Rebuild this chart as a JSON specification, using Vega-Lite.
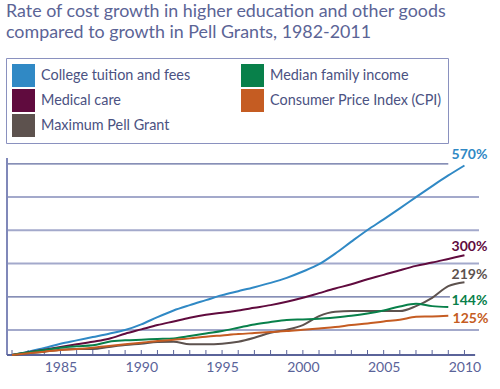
{
  "$schema": "https://vega.github.io/schema/vega-lite/v6.json",
  "width": 472,
  "height": 197,
  "padding": {"left": 5, "top": 2, "right": 5, "bottom": 5},
  "background": "white",
  "config": {
    "view": {"stroke": null},
    "font": "Lato",
    "axisY": {"disable": true},
    "axisX": {"title": null, "grid": false, "domain": false}
  },
  "title": {
    "text": ["Rate of cost growth in higher education and other goods", "compared to growth in Pell Grants, 1982-2011"],
    "anchor": "start",
    "frame": "group",
    "font": "Lato",
    "fontSize": 17.85,
    "fontWeight": "normal",
    "color": "#5b6496",
    "lineHeight": 21,
    "offset": 16,
    "dx": -1
  },
  "datasets": {
    "series": [
      {"series": "College tuition and fees", "year": 1982, "value": 0},
      {"series": "College tuition and fees", "year": 1983, "value": 10},
      {"series": "College tuition and fees", "year": 1984, "value": 21},
      {"series": "College tuition and fees", "year": 1985, "value": 34},
      {"series": "College tuition and fees", "year": 1986, "value": 44},
      {"series": "College tuition and fees", "year": 1987, "value": 54},
      {"series": "College tuition and fees", "year": 1988, "value": 64},
      {"series": "College tuition and fees", "year": 1989, "value": 75},
      {"series": "College tuition and fees", "year": 1990, "value": 92},
      {"series": "College tuition and fees", "year": 1991, "value": 114},
      {"series": "College tuition and fees", "year": 1992, "value": 134},
      {"series": "College tuition and fees", "year": 1993, "value": 150},
      {"series": "College tuition and fees", "year": 1994, "value": 165},
      {"series": "College tuition and fees", "year": 1995, "value": 180},
      {"series": "College tuition and fees", "year": 1996, "value": 192},
      {"series": "College tuition and fees", "year": 1997, "value": 204},
      {"series": "College tuition and fees", "year": 1998, "value": 217},
      {"series": "College tuition and fees", "year": 1999, "value": 232},
      {"series": "College tuition and fees", "year": 2000, "value": 251},
      {"series": "College tuition and fees", "year": 2001, "value": 273},
      {"series": "College tuition and fees", "year": 2002, "value": 305},
      {"series": "College tuition and fees", "year": 2003, "value": 341},
      {"series": "College tuition and fees", "year": 2004, "value": 376},
      {"series": "College tuition and fees", "year": 2005, "value": 408},
      {"series": "College tuition and fees", "year": 2006, "value": 441},
      {"series": "College tuition and fees", "year": 2007, "value": 475},
      {"series": "College tuition and fees", "year": 2008, "value": 508},
      {"series": "College tuition and fees", "year": 2009, "value": 540},
      {"series": "College tuition and fees", "year": 2010, "value": 570},
      {"series": "Medical care", "year": 1982, "value": 0},
      {"series": "Medical care", "year": 1983, "value": 8},
      {"series": "Medical care", "year": 1984, "value": 16},
      {"series": "Medical care", "year": 1985, "value": 24},
      {"series": "Medical care", "year": 1986, "value": 32},
      {"series": "Medical care", "year": 1987, "value": 40},
      {"series": "Medical care", "year": 1988, "value": 49},
      {"series": "Medical care", "year": 1989, "value": 64},
      {"series": "Medical care", "year": 1990, "value": 77},
      {"series": "Medical care", "year": 1991, "value": 90},
      {"series": "Medical care", "year": 1992, "value": 101},
      {"series": "Medical care", "year": 1993, "value": 112},
      {"series": "Medical care", "year": 1994, "value": 121},
      {"series": "Medical care", "year": 1995, "value": 127},
      {"series": "Medical care", "year": 1996, "value": 134},
      {"series": "Medical care", "year": 1997, "value": 142},
      {"series": "Medical care", "year": 1998, "value": 150},
      {"series": "Medical care", "year": 1999, "value": 160},
      {"series": "Medical care", "year": 2000, "value": 172},
      {"series": "Medical care", "year": 2001, "value": 186},
      {"series": "Medical care", "year": 2002, "value": 200},
      {"series": "Medical care", "year": 2003, "value": 213},
      {"series": "Medical care", "year": 2004, "value": 228},
      {"series": "Medical care", "year": 2005, "value": 241},
      {"series": "Medical care", "year": 2006, "value": 255},
      {"series": "Medical care", "year": 2007, "value": 268},
      {"series": "Medical care", "year": 2008, "value": 278},
      {"series": "Medical care", "year": 2009, "value": 289},
      {"series": "Medical care", "year": 2010, "value": 300},
      {"series": "Maximum Pell Grant", "year": 1982, "value": 0},
      {"series": "Maximum Pell Grant", "year": 1983, "value": 5},
      {"series": "Maximum Pell Grant", "year": 1984, "value": 10},
      {"series": "Maximum Pell Grant", "year": 1985, "value": 16},
      {"series": "Maximum Pell Grant", "year": 1986, "value": 18},
      {"series": "Maximum Pell Grant", "year": 1987, "value": 18},
      {"series": "Maximum Pell Grant", "year": 1988, "value": 24},
      {"series": "Maximum Pell Grant", "year": 1989, "value": 30},
      {"series": "Maximum Pell Grant", "year": 1990, "value": 34},
      {"series": "Maximum Pell Grant", "year": 1991, "value": 39},
      {"series": "Maximum Pell Grant", "year": 1992, "value": 40},
      {"series": "Maximum Pell Grant", "year": 1993, "value": 32},
      {"series": "Maximum Pell Grant", "year": 1994, "value": 32},
      {"series": "Maximum Pell Grant", "year": 1995, "value": 34},
      {"series": "Maximum Pell Grant", "year": 1996, "value": 40},
      {"series": "Maximum Pell Grant", "year": 1997, "value": 52},
      {"series": "Maximum Pell Grant", "year": 1998, "value": 67},
      {"series": "Maximum Pell Grant", "year": 1999, "value": 76},
      {"series": "Maximum Pell Grant", "year": 2000, "value": 90},
      {"series": "Maximum Pell Grant", "year": 2001, "value": 117},
      {"series": "Maximum Pell Grant", "year": 2002, "value": 130},
      {"series": "Maximum Pell Grant", "year": 2003, "value": 132},
      {"series": "Maximum Pell Grant", "year": 2004, "value": 132},
      {"series": "Maximum Pell Grant", "year": 2005, "value": 132},
      {"series": "Maximum Pell Grant", "year": 2006, "value": 132},
      {"series": "Maximum Pell Grant", "year": 2007, "value": 147},
      {"series": "Maximum Pell Grant", "year": 2008, "value": 172},
      {"series": "Maximum Pell Grant", "year": 2009, "value": 207},
      {"series": "Maximum Pell Grant", "year": 2010, "value": 219},
      {"series": "Median family income", "year": 1982, "value": 0},
      {"series": "Median family income", "year": 1983, "value": 8},
      {"series": "Median family income", "year": 1984, "value": 15},
      {"series": "Median family income", "year": 1985, "value": 22},
      {"series": "Median family income", "year": 1986, "value": 26},
      {"series": "Median family income", "year": 1987, "value": 29},
      {"series": "Median family income", "year": 1988, "value": 40},
      {"series": "Median family income", "year": 1989, "value": 44},
      {"series": "Median family income", "year": 1990, "value": 46},
      {"series": "Median family income", "year": 1991, "value": 48},
      {"series": "Median family income", "year": 1992, "value": 50},
      {"series": "Median family income", "year": 1993, "value": 57},
      {"series": "Median family income", "year": 1994, "value": 65},
      {"series": "Median family income", "year": 1995, "value": 72},
      {"series": "Median family income", "year": 1996, "value": 82},
      {"series": "Median family income", "year": 1997, "value": 92},
      {"series": "Median family income", "year": 1998, "value": 99},
      {"series": "Median family income", "year": 1999, "value": 105},
      {"series": "Median family income", "year": 2000, "value": 107},
      {"series": "Median family income", "year": 2001, "value": 109},
      {"series": "Median family income", "year": 2002, "value": 113},
      {"series": "Median family income", "year": 2003, "value": 118},
      {"series": "Median family income", "year": 2004, "value": 125},
      {"series": "Median family income", "year": 2005, "value": 134},
      {"series": "Median family income", "year": 2006, "value": 146},
      {"series": "Median family income", "year": 2007, "value": 154},
      {"series": "Median family income", "year": 2008, "value": 147},
      {"series": "Median family income", "year": 2009, "value": 144},
      {"series": "Consumer Price Index (CPI)", "year": 1982, "value": 0},
      {"series": "Consumer Price Index (CPI)", "year": 1983, "value": 5},
      {"series": "Consumer Price Index (CPI)", "year": 1984, "value": 10},
      {"series": "Consumer Price Index (CPI)", "year": 1985, "value": 15},
      {"series": "Consumer Price Index (CPI)", "year": 1986, "value": 18},
      {"series": "Consumer Price Index (CPI)", "year": 1987, "value": 22},
      {"series": "Consumer Price Index (CPI)", "year": 1988, "value": 27},
      {"series": "Consumer Price Index (CPI)", "year": 1989, "value": 32},
      {"series": "Consumer Price Index (CPI)", "year": 1990, "value": 37},
      {"series": "Consumer Price Index (CPI)", "year": 1991, "value": 42},
      {"series": "Consumer Price Index (CPI)", "year": 1992, "value": 46},
      {"series": "Consumer Price Index (CPI)", "year": 1993, "value": 50},
      {"series": "Consumer Price Index (CPI)", "year": 1994, "value": 55},
      {"series": "Consumer Price Index (CPI)", "year": 1995, "value": 59},
      {"series": "Consumer Price Index (CPI)", "year": 1996, "value": 63},
      {"series": "Consumer Price Index (CPI)", "year": 1997, "value": 66},
      {"series": "Consumer Price Index (CPI)", "year": 1998, "value": 69},
      {"series": "Consumer Price Index (CPI)", "year": 1999, "value": 72},
      {"series": "Consumer Price Index (CPI)", "year": 2000, "value": 76},
      {"series": "Consumer Price Index (CPI)", "year": 2001, "value": 80},
      {"series": "Consumer Price Index (CPI)", "year": 2002, "value": 84},
      {"series": "Consumer Price Index (CPI)", "year": 2003, "value": 90},
      {"series": "Consumer Price Index (CPI)", "year": 2004, "value": 95},
      {"series": "Consumer Price Index (CPI)", "year": 2005, "value": 101},
      {"series": "Consumer Price Index (CPI)", "year": 2006, "value": 106},
      {"series": "Consumer Price Index (CPI)", "year": 2007, "value": 115},
      {"series": "Consumer Price Index (CPI)", "year": 2008, "value": 116},
      {"series": "Consumer Price Index (CPI)", "year": 2009, "value": 118}
    ],
    "lightGrid": [
      {"level": 75, "start": 1981.69, "end": 2010.9},
      {"level": 275, "start": 1981.69, "end": 2010.9},
      {"level": 375, "start": 1981.69, "end": 2010.9},
      {"level": 475, "start": 1981.69, "end": 2010.9}
    ],
    "darkGrid": [
      {"level": 175, "start": 1981.69, "end": 2009.1},
      {"level": 575, "start": 1981.69, "end": 2009.0}
    ],
    "frame": [
      {"x1": 1981.69, "x2": 1981.69, "y1": 0, "y2": 592.5, "part": "left"},
      {"x1": 1981.69, "x2": 2010.66, "y1": 0, "y2": 0, "part": "bottom"}
    ],
    "years": [
      {"year": 1982}, {"year": 1983}, {"year": 1984}, {"year": 1985}, {"year": 1986},
      {"year": 1987}, {"year": 1988}, {"year": 1989}, {"year": 1990}, {"year": 1991},
      {"year": 1992}, {"year": 1993}, {"year": 1994}, {"year": 1995}, {"year": 1996},
      {"year": 1997}, {"year": 1998}, {"year": 1999}, {"year": 2000}, {"year": 2001},
      {"year": 2002}, {"year": 2003}, {"year": 2004}, {"year": 2005}, {"year": 2006},
      {"year": 2007}, {"year": 2008}, {"year": 2009}, {"year": 2010}
    ],
    "labels": [
      {"series": "College tuition and fees", "year": 2010, "value": 570, "label": "570%"},
      {"series": "Medical care", "year": 2010, "value": 300, "label": "300%"},
      {"series": "Maximum Pell Grant", "year": 2010, "value": 219, "label": "219%"},
      {"series": "Median family income", "year": 2010, "value": 144, "label": "144%"},
      {"series": "Consumer Price Index (CPI)", "year": 2010, "value": 125, "label": "125%"}
    ]
  },
  "layer": [
    {
      "data": {"name": "lightGrid"},
      "mark": {"type": "rule", "color": "#a3a9cb", "strokeWidth": 2},
      "encoding": {
        "x": {
          "field": "start",
          "type": "quantitative",
          "scale": {"domain": [1981.69, 2010.9], "nice": false, "zero": false},
          "axis": {
            "values": [1985, 1990, 1995, 2000, 2005, 2010],
            "format": "d",
            "ticks": false,
            "labelFont": "Lato",
            "labelFontSize": 14,
            "labelColor": "#5a6399",
            "labelPadding": 5,
            "labelFlush": false
          }
        },
        "x2": {"field": "end"},
        "y": {"field": "level", "type": "quantitative", "scale": {"domain": [0, 592.5], "nice": false}}
      }
    },
    {
      "data": {"name": "darkGrid"},
      "mark": {"type": "rule", "color": "#5f6a9e", "strokeWidth": 1.3},
      "encoding": {
        "x": {"field": "start", "type": "quantitative"},
        "x2": {"field": "end"},
        "y": {"field": "level", "type": "quantitative"}
      }
    },
    {
      "data": {"name": "frame"},
      "transform": [{"filter": "datum.part == 'left'"}],
      "mark": {"type": "rule", "color": "#8088b9", "strokeWidth": 2},
      "encoding": {
        "x": {"field": "x1", "type": "quantitative"},
        "y": {"field": "y1", "type": "quantitative"},
        "y2": {"field": "y2"}
      }
    },
    {
      "data": {"name": "years"},
      "mark": {"type": "rule", "color": "#5a6399", "strokeWidth": 1},
      "encoding": {
        "x": {"field": "year", "type": "quantitative"},
        "y": {"datum": 0, "type": "quantitative"},
        "y2": {"datum": 15}
      }
    },
    {
      "data": {"name": "frame"},
      "transform": [{"filter": "datum.part == 'bottom'"}],
      "mark": {"type": "rule", "color": "#5a6399", "strokeWidth": 2},
      "encoding": {
        "x": {"field": "x1", "type": "quantitative"},
        "x2": {"field": "x2"},
        "y": {"field": "y1", "type": "quantitative"}
      }
    },
    {
      "data": {"name": "series"},
      "mark": {"type": "line", "strokeWidth": 2, "interpolate": "monotone"},
      "encoding": {
        "x": {"field": "year", "type": "quantitative"},
        "y": {"field": "value", "type": "quantitative"},
        "color": {
          "field": "series",
          "type": "nominal",
          "scale": {
            "domain": ["College tuition and fees", "Medical care", "Maximum Pell Grant", "Median family income", "Consumer Price Index (CPI)"],
            "range": ["#3089c5", "#600b3e", "#5d524e", "#08804a", "#c55c22"]
          },
          "legend": {
            "orient": "none",
            "legendX": -1,
            "legendY": -100,
            "columns": 2,
            "title": null,
            "symbolType": "square",
            "symbolSize": 529,
            "symbolStrokeWidth": 0,
            "symbolOpacity": 1,
            "labelFont": "Lato",
            "labelFontSize": 14.4,
            "labelColor": "#4b5282",
            "labelOffset": 6,
            "labelLimit": 400,
            "rowPadding": 2,
            "columnPadding": 50,
            "padding": 6,
            "strokeColor": "#8a91bf",
            "labelExpr": "datum.label == 'Consumer Price Index (CPI)' ? datum.label + '\u00a0\u00a0\u00a0\u00a0\u00a0\u00a0\u00a0\u00a0\u00a0\u00a0\u00a0\u00a0\u00a0' : datum.label",
            "encode": {
              "symbols": {"update": {"fill": {"scale": "color", "field": "value"}, "strokeWidth": {"value": 0}, "opacity": {"value": 1}}}
            }
          }
        }
      }
    },
    {
      "data": {"name": "labels"},
      "transform": [{"filter": "datum.value == 570"}],
      "mark": {"type": "text", "font": "Lato", "fontSize": 14, "fontWeight": "bold", "align": "center", "dx": 5, "dy": -10, "color": "#3089c5"},
      "encoding": {"x": {"field": "year", "type": "quantitative"}, "y": {"field": "value", "type": "quantitative"}, "text": {"field": "label"}}
    },
    {
      "data": {"name": "labels"},
      "transform": [{"filter": "datum.value == 300"}],
      "mark": {"type": "text", "font": "Lato", "fontSize": 14, "fontWeight": "bold", "align": "center", "dx": 5, "dy": -8, "color": "#600b3e"},
      "encoding": {"x": {"field": "year", "type": "quantitative"}, "y": {"field": "value", "type": "quantitative"}, "text": {"field": "label"}}
    },
    {
      "data": {"name": "labels"},
      "transform": [{"filter": "datum.value == 219"}],
      "mark": {"type": "text", "font": "Lato", "fontSize": 14, "fontWeight": "bold", "align": "center", "dx": 5, "dy": -7, "color": "#5d524e"},
      "encoding": {"x": {"field": "year", "type": "quantitative"}, "y": {"field": "value", "type": "quantitative"}, "text": {"field": "label"}}
    },
    {
      "data": {"name": "labels"},
      "transform": [{"filter": "datum.value == 144"}],
      "mark": {"type": "text", "font": "Lato", "fontSize": 14, "fontWeight": "bold", "align": "center", "dx": 5, "dy": -6, "color": "#08804a"},
      "encoding": {"x": {"field": "year", "type": "quantitative"}, "y": {"field": "value", "type": "quantitative"}, "text": {"field": "label"}}
    },
    {
      "data": {"name": "labels"},
      "transform": [{"filter": "datum.value == 125"}],
      "mark": {"type": "text", "font": "Lato", "fontSize": 14, "fontWeight": "bold", "align": "center", "dx": 6, "dy": 6, "color": "#c55c22"},
      "encoding": {"x": {"field": "year", "type": "quantitative"}, "y": {"field": "value", "type": "quantitative"}, "text": {"field": "label"}}
    }
  ]
}
